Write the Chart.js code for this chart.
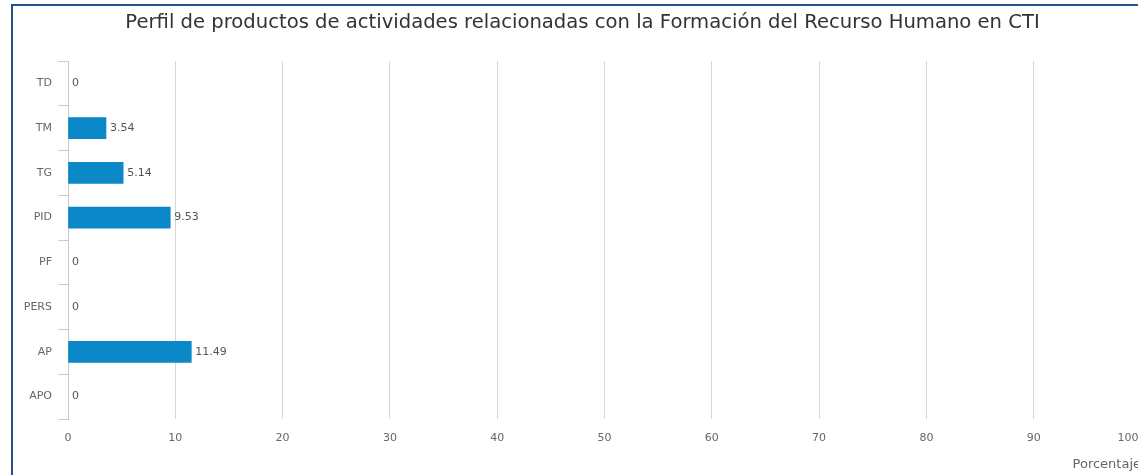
<!DOCTYPE html>
<html>
<head>
<meta charset="utf-8">
<script src="https://cdn.jsdelivr.net/npm/chart.js@4.4.1/dist/chart.umd.min.js"></script>
<style>
  html, body { margin: 0; padding: 0; background: #fff; overflow: hidden; width: 1138px; height: 475px; }
  #wrap { position: absolute; left: 0; top: 0; width: 1165px; height: 475px; }
  #frame { position: absolute; left: 11px; top: 4px; width: 1200px; height: 500px;
           border-left: 2px solid #27508f; border-top: 2px solid #27508f; pointer-events: none; }
</style>
</head>
<body>
<div id="wrap"><canvas id="c"></canvas></div>
<div id="frame"></div>
<script>
const chartTitle = "Perfil de productos de actividades relacionadas con la Formación del Recurso Humano en CTI";
const categories = ["TD", "TM", "TG", "PID", "PF", "PERS", "AP", "APO"];
const values = [0, 3.54, 5.14, 9.53, 0, 0, 11.49, 0];
const xTicks = [0, 10, 20, 30, 40, 50, 60, 70, 80, 90, 100];
const xAxisTitle = "Porcentaje";

const FONT = '"DejaVu Sans", sans-serif';
const BAR_COLOR = '#0a88c8';

const valueLabels = {
  id: 'valueLabels',
  afterDatasetsDraw(chart) {
    const ctx = chart.ctx;
    const meta = chart.getDatasetMeta(0);
    ctx.save();
    ctx.font = '11px ' + FONT;
    ctx.fillStyle = '#555';
    ctx.textAlign = 'left';
    ctx.textBaseline = 'middle';
    meta.data.forEach((bar, i) => {
      ctx.fillText(String(values[i]), bar.x + 4, bar.y);
    });
    ctx.restore();
  }
};

// keep the last x label inside the visible frame (like a justified label)
const justifyLastLabel = {
  id: 'justifyLastLabel',
  beforeDraw(chart) {
    try {
      const s = chart.scales.x;
      const items = s._labelItems || (s._labelItems = s._computeLabelItems(chart.chartArea));
      const last = items[items.length - 1];
      if (last && last.options && last.options.translation && !last._shifted) {
        last.options.translation[0] -= 13;
        last._shifted = true;
      }
    } catch (e) {}
  }
};

new Chart(document.getElementById('c'), {
  type: 'bar',
  data: {
    labels: categories,
    datasets: [{
      data: values,
      backgroundColor: (c) => (c.raw === 0 ? 'rgba(0,0,0,0)' : BAR_COLOR),
      borderWidth: 0,
      barThickness: 21
    }]
  },
  options: {
    indexAxis: 'y',
    responsive: true,
    maintainAspectRatio: false,
    animation: false,
    layout: { padding: { left: 24, right: 24, top: 0, bottom: 0 } },
    plugins: {
      legend: { display: false },
      tooltip: { enabled: false },
      title: {
        display: true,
        text: chartTitle,
        color: '#333',
        font: { family: FONT, size: 19.6, weight: 'normal' },
        padding: { top: 11, bottom: 26.5 }
      }
    },
    scales: {
      x: {
        min: 0,
        max: 100,
        afterBuildTicks(scale) { scale.ticks = xTicks.map(v => ({ value: v })); },
        afterFit(scale) { scale.height = 56; },
        grid: { color: '#d6d6d6', drawTicks: false, lineWidth: 1 },
        border: { display: false },
        ticks: { color: '#666', font: { family: FONT, size: 11 }, padding: 13, maxRotation: 0 },
        title: { display: true, text: xAxisTitle, align: 'end', color: '#666',
                 font: { family: FONT, size: 13 }, padding: { top: 3, bottom: 3 } }
      },
      y: {
        afterFit(scale) { scale.width = 44; },
        grid: { drawOnChartArea: false, drawTicks: true, tickLength: 10, color: '#cccccc', offset: true },
        border: { display: true, color: '#c8c8c8' },
        ticks: { color: '#666', font: { family: FONT, size: 11 }, padding: 6 }
      }
    }
  },
  plugins: [valueLabels, justifyLastLabel]
});
</script>
</body>
</html>
